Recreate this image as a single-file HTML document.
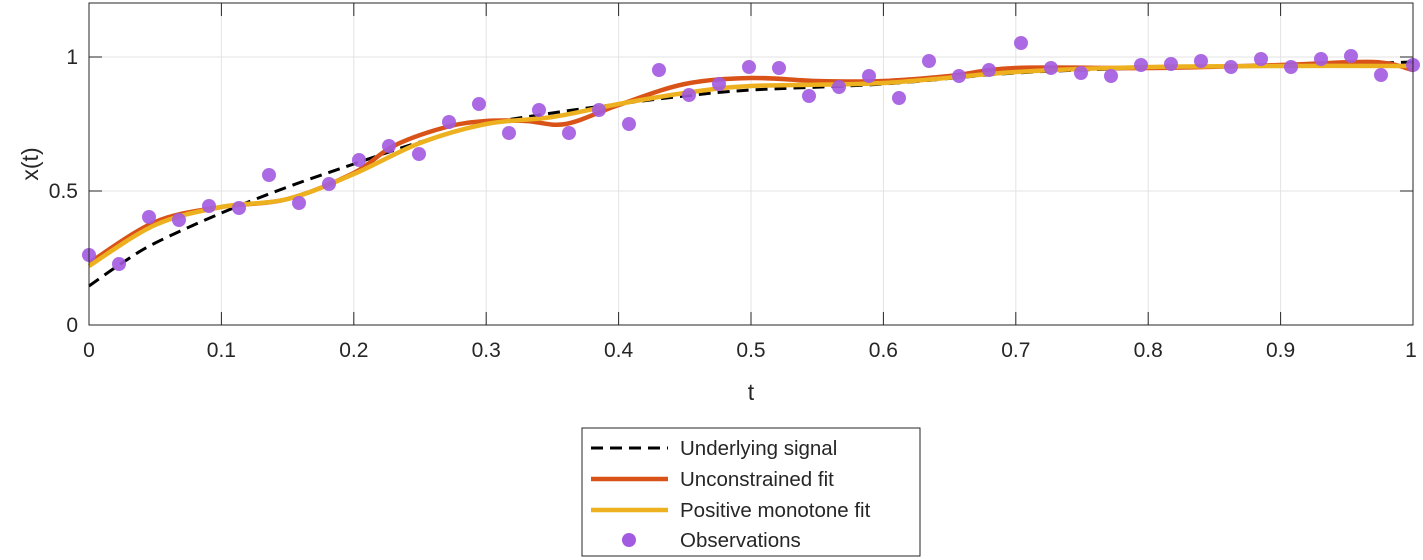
<!DOCTYPE html>
<html><head><meta charset="utf-8"><style>body{margin:0;background:#fff}svg{display:block}text{font-family:"Liberation Sans",sans-serif;fill:#262626}</style></head><body>
<svg id="s" width="1423" height="560" xmlns="http://www.w3.org/2000/svg">
<g stroke="#e3e3e3" stroke-width="1">
<line x1="221.4" y1="3" x2="221.4" y2="325"/><line x1="353.8" y1="3" x2="353.8" y2="325"/><line x1="486.2" y1="3" x2="486.2" y2="325"/><line x1="618.6" y1="3" x2="618.6" y2="325"/><line x1="751" y1="3" x2="751" y2="325"/><line x1="883.4" y1="3" x2="883.4" y2="325"/><line x1="1015.8" y1="3" x2="1015.8" y2="325"/><line x1="1148.2" y1="3" x2="1148.2" y2="325"/><line x1="1280.6" y1="3" x2="1280.6" y2="325"/>
<line x1="89" y1="57" x2="1413" y2="57"/><line x1="89" y1="191" x2="1413" y2="191"/>
</g>
<path id="sig" fill="none" stroke="#000" stroke-width="3" stroke-dasharray="12,7"/>
<path id="unc" fill="none" stroke="#d95319" stroke-width="4.5"/>
<path id="mon" fill="none" stroke="#edb120" stroke-width="4.5"/>
<g fill="#a25ae0" fill-opacity="0.9">
<circle cx="89" cy="255" r="7"/><circle cx="119" cy="264" r="7"/><circle cx="149" cy="217" r="7"/><circle cx="179" cy="220" r="7"/><circle cx="209" cy="206" r="7"/><circle cx="239" cy="208" r="7"/><circle cx="269" cy="175" r="7"/><circle cx="299" cy="203" r="7"/><circle cx="329" cy="184" r="7"/><circle cx="359" cy="160" r="7"/><circle cx="389" cy="146" r="7"/><circle cx="419" cy="154" r="7"/><circle cx="449" cy="122" r="7"/><circle cx="479" cy="104" r="7"/><circle cx="509" cy="133" r="7"/><circle cx="539" cy="110" r="7"/><circle cx="569" cy="133" r="7"/><circle cx="599" cy="110" r="7"/><circle cx="629" cy="124" r="7"/><circle cx="659" cy="70" r="7"/><circle cx="689" cy="95" r="7"/><circle cx="719" cy="84" r="7"/><circle cx="749" cy="67" r="7"/><circle cx="779" cy="68" r="7"/><circle cx="809" cy="96" r="7"/><circle cx="839" cy="87" r="7"/><circle cx="869" cy="76" r="7"/><circle cx="899" cy="98" r="7"/><circle cx="929" cy="61" r="7"/><circle cx="959" cy="76" r="7"/><circle cx="989" cy="70" r="7"/><circle cx="1021" cy="43" r="7"/><circle cx="1051" cy="68" r="7"/><circle cx="1081" cy="73" r="7"/><circle cx="1111" cy="76" r="7"/><circle cx="1141" cy="65" r="7"/><circle cx="1171" cy="64" r="7"/><circle cx="1201" cy="61" r="7"/><circle cx="1231" cy="67" r="7"/><circle cx="1261" cy="59" r="7"/><circle cx="1291" cy="67" r="7"/><circle cx="1321" cy="59" r="7"/><circle cx="1351" cy="56" r="7"/><circle cx="1381" cy="75" r="7"/><circle cx="1413" cy="65" r="7"/>
</g>
<rect x="89" y="3" width="1324" height="322" fill="none" stroke="#262626" stroke-width="1"/>
<g stroke="#262626"><line x1="89" y1="57" x2="102" y2="57"/><line x1="89" y1="191" x2="102" y2="191"/><line x1="1400" y1="57" x2="1413" y2="57"/><line x1="1400" y1="191" x2="1413" y2="191"/>
<line x1="221.4" y1="325" x2="221.4" y2="312"/><line x1="353.8" y1="325" x2="353.8" y2="312"/><line x1="486.2" y1="325" x2="486.2" y2="312"/><line x1="618.6" y1="325" x2="618.6" y2="312"/><line x1="751" y1="325" x2="751" y2="312"/><line x1="883.4" y1="325" x2="883.4" y2="312"/><line x1="1015.8" y1="325" x2="1015.8" y2="312"/><line x1="1148.2" y1="325" x2="1148.2" y2="312"/><line x1="1280.6" y1="325" x2="1280.6" y2="312"/>
<line x1="221.4" y1="3" x2="221.4" y2="16"/><line x1="353.8" y1="3" x2="353.8" y2="16"/><line x1="486.2" y1="3" x2="486.2" y2="16"/><line x1="618.6" y1="3" x2="618.6" y2="16"/><line x1="751" y1="3" x2="751" y2="16"/><line x1="883.4" y1="3" x2="883.4" y2="16"/><line x1="1015.8" y1="3" x2="1015.8" y2="16"/><line x1="1148.2" y1="3" x2="1148.2" y2="16"/><line x1="1280.6" y1="3" x2="1280.6" y2="16"/></g>
<g font-size="21" text-anchor="end"><text x="78" y="64">1</text><text x="78" y="198">0.5</text><text x="78" y="332">0</text></g>
<g font-size="21" text-anchor="middle"><text x="89" y="357">0</text><text x="221.4" y="357">0.1</text><text x="353.8" y="357">0.2</text><text x="486.2" y="357">0.3</text><text x="618.6" y="357">0.4</text><text x="751" y="357">0.5</text><text x="883.4" y="357">0.6</text><text x="1015.8" y="357">0.7</text><text x="1148.2" y="357">0.8</text><text x="1280.6" y="357">0.9</text><text x="1411" y="357">1</text>
<text x="751" y="400" font-size="23">t</text>
<text transform="translate(38,164) rotate(-90)" font-size="23">x(t)</text></g>
<rect x="582" y="428" width="338" height="128" fill="#fff" stroke="#262626"/>
<line x1="591" y1="448" x2="668" y2="448" stroke="#000" stroke-width="3" stroke-dasharray="12,7"/>
<line x1="591" y1="479" x2="668" y2="479" stroke="#d95319" stroke-width="4.5"/>
<line x1="591" y1="510" x2="668" y2="510" stroke="#edb120" stroke-width="4.5"/>
<circle cx="629" cy="540" r="7" fill="#a25ae0"/>
<g font-size="20.5"><text x="680" y="455">Underlying signal</text><text x="680" y="486">Unconstrained fit</text><text x="680" y="517">Positive monotone fit</text><text x="680" y="547">Observations</text></g>
</svg>
<script>
function cr(pts){var X=function(t){return 89+1324*t};var p=pts.map(function(a){return [X(a[0]),a[1]]});var d="M"+p[0][0]+","+p[0][1];
for(var i=0;i<p.length-1;i++){var p0=p[i-1]||p[i],p1=p[i],p2=p[i+1],p3=p[i+2]||p2;
d+=" C"+(p1[0]+(p2[0]-p0[0])/6)+","+(p1[1]+(p2[1]-p0[1])/6)+" "+(p2[0]-(p3[0]-p1[0])/6)+","+(p2[1]-(p3[1]-p1[1])/6)+" "+p2[0]+","+p2[1];}return d;}
document.getElementById("sig").setAttribute("d",cr([[0,286],[0.025,263],[0.05,243],[0.1,213],[0.15,187],[0.2,164],[0.25,142],[0.3,124],[0.35,113],[0.4,104],[0.45,96],[0.5,90],[0.6,84],[0.7,73],[0.8,68],[0.9,66],[1,62]]));
document.getElementById("unc").setAttribute("d",cr([[0,263],[0.05,222],[0.1,207],[0.15,199],[0.2,173],[0.23,146],[0.27,127],[0.3,121],[0.33,121],[0.36,124],[0.4,105],[0.45,84],[0.5,78],[0.55,81],[0.6,81],[0.65,76],[0.7,68],[0.8,68],[0.9,65],[0.97,62],[1,70]]));
document.getElementById("mon").setAttribute("d",cr([[0,266],[0.05,225],[0.1,207],[0.15,199],[0.2,174],[0.25,143],[0.3,124],[0.35,117],[0.4,104],[0.45,93],[0.5,86],[0.6,83],[0.7,72],[0.8,67],[0.9,66],[1,66]]));
</script>
</body></html>
